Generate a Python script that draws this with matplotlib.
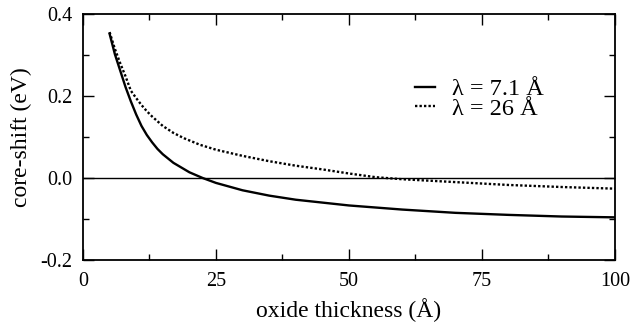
import numpy as np
import matplotlib.pyplot as plt
from matplotlib.ticker import MultipleLocator

# values
thick_short = [5, 6, 7, 8, 9, 10, 11, 12, 13, 14, 15, 17, 20, 22.5, 25, 30, 35, 40, 50, 60, 70, 80, 90, 100]
shift_short = [0.352, 0.302, 0.262, 0.222, 0.187, 0.155, 0.127, 0.105, 0.087, 0.071, 0.058, 0.037, 0.014,
               0.0, -0.012, -0.030, -0.043, -0.053, -0.067, -0.077, -0.085, -0.090, -0.094, -0.096]

thick_long = [5, 6, 7, 8, 9, 10, 11, 12, 13, 15, 17, 19, 22, 25, 30, 35, 40, 45, 50, 55, 60, 70, 80, 90, 100]
shift_long = [0.356, 0.315, 0.280, 0.248, 0.213, 0.195, 0.178, 0.163, 0.150, 0.127, 0.110, 0.097, 0.081,
              0.069, 0.054, 0.041, 0.030, 0.021, 0.011, 0.002, -0.003, -0.010, -0.017, -0.022, -0.026]

plt.rcParams['font.family'] = ['Liberation Serif', 'DejaVu Serif']

fig = plt.figure(figsize=(6.31, 3.27), dpi=100)
ax = fig.add_axes([0.1315, 0.205, 0.843, 0.752])

ax.axhline(0, color='black', lw=1.0)
ax.plot(thick_short, shift_short, '-', color='black', lw=1.7, label='λ = 7.1 Å')
ax.plot(thick_long, shift_long, color='black', lw=1.7, dashes=(1, 0.9), label='λ = 26 Å')

ax.set_xlim(0, 100)
ax.set_ylim(-0.2, 0.4)
ax.xaxis.set_major_locator(MultipleLocator(25))
ax.xaxis.set_minor_locator(MultipleLocator(12.5))
ax.yaxis.set_major_locator(MultipleLocator(0.2))
ax.yaxis.set_minor_locator(MultipleLocator(0.1))
ax.yaxis.set_major_formatter(lambda v, p: f"{v:.1f}".replace('\u2212', '-'))
ax.tick_params(which='both', direction='in', top=True, right=True, labelsize=14.5, width=1)
ax.tick_params(which='major', length=8, pad=7.5)
ax.tick_params(axis='x', which='major', pad=9)
ax.tick_params(which='minor', length=4)
for s in ax.spines.values():
    s.set_linewidth(1.3)

ax.set_xlabel('oxide thickness (Å)', fontsize=17, labelpad=5)
ax.set_ylabel('core-shift (eV)', fontsize=17, labelpad=6.5)

ax.legend(loc='upper right', bbox_to_anchor=(0.885, 0.778), frameon=False, fontsize=17.5,
          handlelength=0.82, handletextpad=0.7, labelspacing=-0.1, borderaxespad=0.0)

fig.savefig('out.png', dpi=100)
